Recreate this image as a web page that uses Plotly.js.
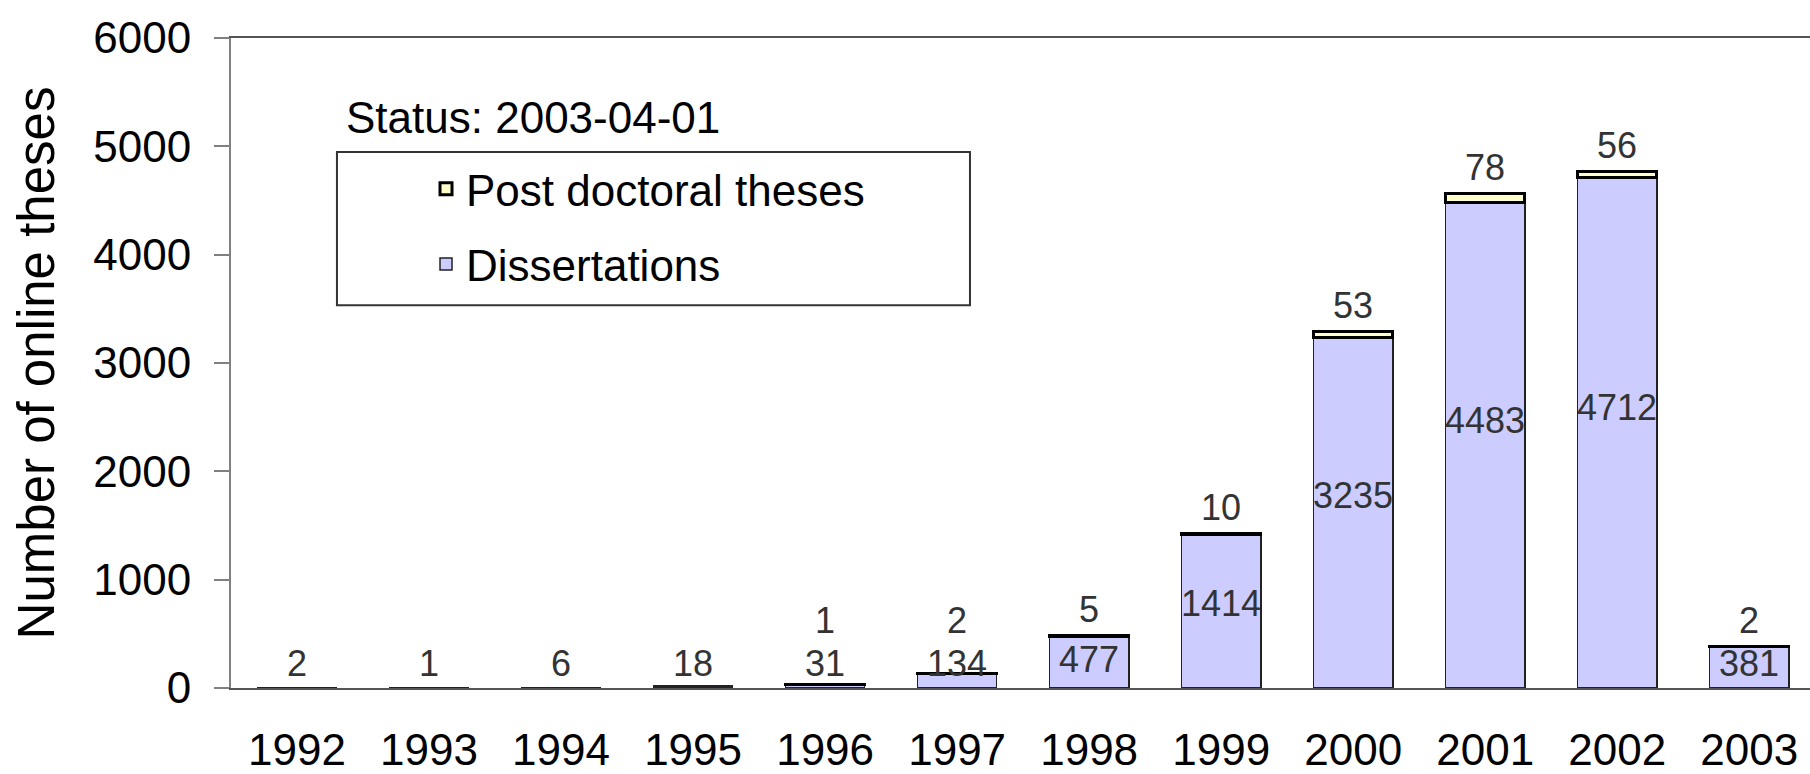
<!DOCTYPE html>
<html><head><meta charset="utf-8">
<script src="https://cdn.plot.ly/plotly-3.0.1.min.js"></script>
<style>html,body{margin:0;padding:0;background:#fff}#chart{width:1810px;height:774px}</style>
</head><body><div id="chart"></div>
<script>
// ---- data ----
const years = ['1992','1993','1994','1995','1996','1997','1998','1999','2000','2001','2002','2003'];
const dissertations = [2, 1, 6, 18, 31, 134, 477, 1414, 3235, 4483, 4712, 381];
const postDoctoral = [null, null, null, null, 1, 2, 5, 10, 53, 78, 56, 2];
const seriesNames = ['Dissertations', 'Post doctoral theses'];
const yTitle = 'Number of online theses';
const statusText = 'Status: 2003-04-01';
const yTicks = [0, 1000, 2000, 3000, 4000, 5000, 6000];

// ---- chart ----
const FONT = 'Liberation Sans, Arial, sans-serif';
const traces = [
  {type:'bar', name: seriesNames[0], x: years, y: dissertations, legendgroup:'d', legendrank:2,
   marker:{color:'#CCCCFF', line:{color:'#222', width:1.5}}, hoverinfo:'x+y+name'},
  {type:'bar', name: seriesNames[1], x: years, y: postDoctoral, legendgroup:'p', legendrank:1,
   marker:{color:'#FFFFCC', line:{color:'#000', width:3}}, hoverinfo:'x+y+name'}
];

const annotations = [];
years.forEach((yr, i) => {
  const d = dissertations[i];
  annotations.push({x: i, y: Math.max(d * 0.55, 230), xref:'x', yref:'y', text: String(d),
    showarrow:false, yanchor:'middle', font:{family:FONT, size:36, color:'#333'}});
  const p = postDoctoral[i];
  if (p !== null) {
    annotations.push({x: i, y: Math.max(d + p + 240, 620), xref:'x', yref:'y', text: String(p),
      showarrow:false, yanchor:'middle', font:{family:FONT, size:36, color:'#333'}});
  }
});
annotations.push({xref:'paper', yref:'paper', x:0.0716, y:0.877, xanchor:'left', yanchor:'middle',
  text: statusText, showarrow:false, font:{family:FONT, size:44, color:'#000'}});

const layout = {
  width:1810, height:774,
  margin:{l:231, r:0, t:38, b:86},
  paper_bgcolor:'#fff', plot_bgcolor:'#fff',
  barmode:'stack', bargap:0.4,
  font:{family:FONT, size:44, color:'#000'},
  xaxis:{type:'category', range:[-0.5, 11.46], showgrid:false, zeroline:false,
    showline:true, linecolor:'#555', linewidth:2, mirror:true, ticks:'',
    ticklabelstandoff:22, tickfont:{family:FONT, size:44, color:'#000'}},
  yaxis:{range:[0, 6000], tickvals:yTicks, showgrid:false, zeroline:false,
    showline:true, linecolor:'#808080', linewidth:2, ticks:'outside', ticklen:15,
    tickwidth:2, tickcolor:'#808080', ticklabelstandoff:14,
    tickfont:{family:FONT, size:44, color:'#000'},
    title:{text:yTitle, standoff:22, font:{family:FONT, size:51, color:'#000'}}},
  showlegend:true,
  legend:{x:0.1235, y:0.822, xanchor:'left', yanchor:'top', bgcolor:'rgba(0,0,0,0)',
    borderwidth:0, traceorder:'grouped', tracegroupgap:15,
    font:{family:FONT, size:44, color:'#000'}},
  shapes:[{type:'rect', xref:'paper', yref:'paper', x0:0.0671, x1:0.468, y0:0.589, y1:0.8246,
    line:{color:'#333', width:2}, fillcolor:'rgba(0,0,0,0)'}],
  annotations: annotations
};

Plotly.newPlot('chart', traces, layout, {displayModeBar:false, responsive:false});
</script>
</body></html>
